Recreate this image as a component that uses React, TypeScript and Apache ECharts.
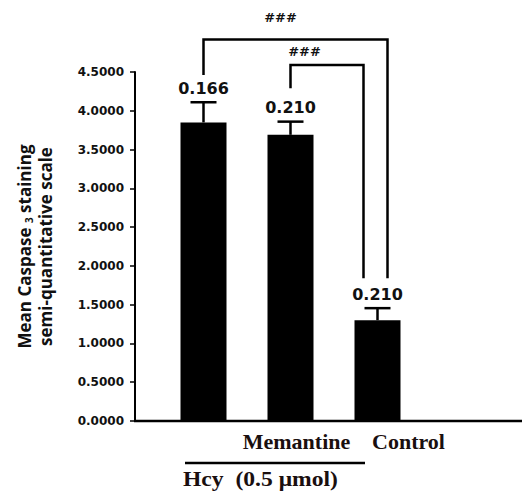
import React, { useEffect, useRef } from "react";
import * as echarts from "echarts";

// ---- data ----
const categories = ["", "Memantine", "Control"];
const meanValues = [3.85, 3.69, 1.3];
const errorValues = [0.26, 0.17, 0.155];
const errorLabels = ["0.166", "0.210", "0.210"];
const yTicks = { min: 0, max: 4.5, interval: 0.5 };
const groupLabel = "Hcy  (0.5 \u03bcmol)";
// significance brackets: [fromIndex, toIndex, topValue, leftEndValue, rightEndValue]
const bracketFrom = [0, 1];
const bracketTo = [2, 2];
const bracketTop = [4.92, 4.59];
const bracketLeftEnd = [4.46, 4.29];
const bracketRightEnd = [1.84, 1.84];
const bracketLabels = ["###", "###"];

// layout / styling for brackets (pixel offsets)
const bracketStyle = [
  { rightDx: 10, labelDx: 77, labelDy: -22 },
  { rightDx: -14, labelDx: 14, labelDy: -14 },
];

export default function App() {
  const ref = useRef<HTMLDivElement>(null);

  useEffect(() => {
    if (!ref.current) return;
    const chart = echarts.init(ref.current, undefined, { renderer: "svg" });

    const errData = meanValues.map((v, i) => [i, v, errorValues[i]]);
    const bracketData = bracketFrom.map((f, i) => [
      f,
      bracketTo[i],
      bracketTop[i],
      bracketLeftEnd[i],
      bracketRightEnd[i],
      i,
    ]);

    const lineStyle = { stroke: "#000", lineWidth: 2.5 };
    const titleFont = "Open Sans";

    chart.setOption({
      animation: false,
      grid: { left: 160, right: 104, top: 72, bottom: 71 },
      xAxis: {
        type: "category",
        data: categories,
        axisLine: { show: false },
        axisTick: { show: false },
        axisLabel: {
          margin: 9,
          color: "#1a0f0f",
          fontFamily: "Liberation Serif",
          fontWeight: "bold",
          fontSize: 22,
          interval: 0,
          formatter: (v: string) => (v === "Control" ? "{c|" + v + "}" : "{m|" + v + "}"),
          rich: {
            c: {
              fontFamily: "Liberation Serif",
              fontWeight: "bold",
              fontSize: 22,
              color: "#1a0f0f",
              padding: [0, 0, 0, 62],
            },
            m: {
              fontFamily: "Liberation Serif",
              fontWeight: "bold",
              fontSize: 22,
              color: "#1a0f0f",
              padding: [0, 0, 0, 12],
            },
          },
        },
      },
      yAxis: {
        type: "value",
        min: yTicks.min,
        max: yTicks.max,
        interval: yTicks.interval,
        offset: 25,
        splitLine: { show: false },
        axisLine: { show: true, lineStyle: { color: "#000", width: 2 } },
        axisTick: { show: true, length: 5, lineStyle: { color: "#000", width: 1.5 } },
        axisLabel: {
          margin: 11,
          color: "#111",
          fontFamily: "DejaVu Sans",
          fontWeight: "bold",
          fontSize: 12,
          formatter: (v: number) => v.toFixed(4),
        },
        name: "{t|Mean Caspase }{s|3}{t| staining}\n{t|semi-quantitative scale}",
        nameLocation: "middle",
        nameRotate: 90,
        nameGap: 79,
        nameTextStyle: {
          fontFamily: titleFont,
          fontWeight: "bold",
          fontSize: 17,
          lineHeight: 21,
          color: "#111",
          rich: {
            t: { fontFamily: titleFont, fontWeight: "bold", fontSize: 17, color: "#111", lineHeight: 21 },
            s: {
              fontFamily: titleFont,
              fontWeight: "bold",
              fontSize: 10,
              color: "#111",
              padding: [8, 0, 0, 0],
            },
          },
        },
      },
      graphic: [
        {
          type: "line",
          shape: { x1: 134, y1: 421, x2: 522, y2: 421 },
          style: { stroke: "#000", lineWidth: 2.5 },
          silent: true,
        },
        {
          type: "line",
          shape: { x1: 185, y1: 463, x2: 365, y2: 463 },
          style: { stroke: "#000", lineWidth: 2.5 },
          silent: true,
        },
        {
          type: "group",
          x: 183,
          y: 480,
          scaleX: 1.18,
          children: [
            {
              type: "text",
              x: 0,
              y: 0,
              style: {
                text: groupLabel,
                fill: "#1a0f0f",
                font: "bold 20px 'Liberation Serif'",
                verticalAlign: "middle",
                align: "left",
              },
            },
          ],
        },
      ],
      series: [
        {
          type: "bar",
          data: meanValues,
          barWidth: 46,
          itemStyle: { color: "#000" },
          silent: true,
        },
        {
          type: "custom",
          data: errData,
          silent: true,
          z: 3,
          renderItem: (params: any, api: any) => {
            const idx = params.dataIndex;
            const i = api.value(0);
            const v = api.value(1);
            const e = api.value(2);
            const base = api.coord([i, v]);
            const top = api.coord([i, v + e]);
            const half = 13;
            return {
              type: "group",
              children: [
                {
                  type: "line",
                  shape: { x1: base[0], y1: base[1], x2: top[0], y2: top[1] },
                  style: lineStyle,
                },
                {
                  type: "line",
                  shape: { x1: top[0] - half, y1: top[1], x2: top[0] + half, y2: top[1] },
                  style: lineStyle,
                },
                {
                  type: "text",
                  x: top[0],
                  y: top[1] - 6,
                  style: {
                    text: errorLabels[idx],
                    fill: "#111",
                    font: "bold 16px 'DejaVu Sans'",
                    align: "center",
                    verticalAlign: "bottom",
                  },
                },
              ],
            };
          },
        },
        {
          type: "custom",
          data: bracketData,
          silent: true,
          clip: false,
          z: 4,
          renderItem: (params: any, api: any) => {
            const k = api.value(5);
            const st = bracketStyle[k];
            const f = api.value(0);
            const t = api.value(1);
            const topV = api.value(2);
            const lV = api.value(3);
            const rV = api.value(4);
            const pl = api.coord([f, lV]);
            const pt = api.coord([f, topV]);
            const pr = api.coord([t, rV]);
            const xr = pr[0] + st.rightDx;
            return {
              type: "group",
              children: [
                {
                  type: "polyline",
                  shape: {
                    points: [
                      [pl[0], pl[1]],
                      [pl[0], pt[1]],
                      [xr, pt[1]],
                      [xr, pr[1]],
                    ],
                  },
                  style: { stroke: "#000", lineWidth: 2.5, fill: "none" },
                },
                {
                  type: "text",
                  x: pl[0] + st.labelDx,
                  y: pt[1] + st.labelDy,
                  style: {
                    text: bracketLabels[k],
                    fill: "#111",
                    font: "bold 13px 'DejaVu Sans'",
                    align: "center",
                    verticalAlign: "middle",
                  },
                },
              ],
            };
          },
        },
      ],
    });

    return () => chart.dispose();
  }, []);

  return (
    <div
      ref={ref}
      style={{ position: "fixed", left: 0, top: 0, width: 525, height: 492, background: "#fff" }}
    />
  );
}
